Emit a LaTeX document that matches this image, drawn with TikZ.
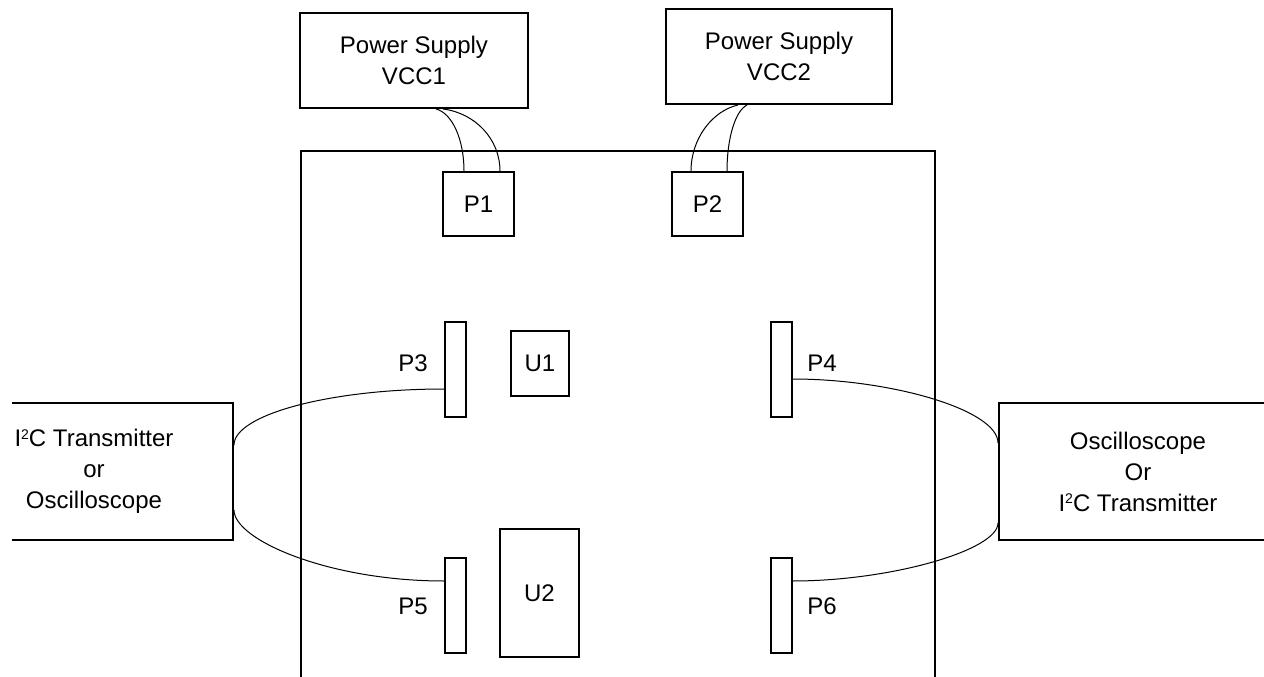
\documentclass[tikz,border=0pt]{standalone}
\usepackage{fontspec}
\setmainfont{Liberation Sans}
\newcommand{\suptwo}{\raisebox{7.5pt}{\fontsize{14}{14}\selectfont 2}}
\begin{document}
\begin{tikzpicture}[x=1pt,y=-1pt,
  txt/.style={font=\fontsize{24}{31}\selectfont,align=center,inner sep=0pt},
  box/.style={txt,draw,line width=2pt,rectangle},
  wire/.style={line width=1pt},
  board/.style={line width=2pt}]
\useasboundingbox (0,0) rectangle (1264,677);
\begin{scope}
\clip (12,0) rectangle (1264,677);
% board outline
\coordinate (BL) at (301,677);
\coordinate (TL) at (301,151);
\coordinate (TR) at (935,151);
\coordinate (BR) at (935,677);
\draw[board] (BL) -- (TL) -- (TR) -- (BR);
% power supplies
\node[box,minimum width=228pt,minimum height=95pt] (PS1) at (414,60.5) {Power Supply\\VCC1};
\node[box,minimum width=226pt,minimum height=95pt] (PS2) at (779,56.5) {Power Supply\\VCC2};
% connectors on board
\node[box,minimum width=71pt,minimum height=64pt] (P1) at (478.5,204) {P1};
\node[box,minimum width=71pt,minimum height=64pt] (P2) at (707.5,204) {P2};
\node[box,minimum width=21pt,minimum height=95pt] (P3) at (455.5,369.5) {};
\node[box,minimum width=21pt,minimum height=95pt] (P5) at (455.5,605.5) {};
\node[box,minimum width=21pt,minimum height=95pt] (P4) at (781,369.5) {};
\node[box,minimum width=21pt,minimum height=95pt] (P6) at (781,605.5) {};
\node[txt] (L3) at (413,363) {P3};
\node[txt] (L5) at (413,606) {P5};
\node[txt] (L4) at (822,363) {P4};
\node[txt] (L6) at (822,606) {P6};
% chips
\node[box,minimum width=58pt,minimum height=65pt] (U1) at (540,363.5) {U1};
\node[box,minimum width=79pt,minimum height=128pt] (U2) at (539.5,593) {U2};
% side instruments
\node[box,minimum width=278pt,minimum height=137pt] (LB) at (94,471.5) {I\suptwo C Transmitter\\or\\Oscilloscope};
\node[box,minimum width=278pt,minimum height=137pt] (RB) at (1138,471.5) {Oscilloscope\\Or\\I\suptwo C Transmitter};
% power wires
\draw[wire] ([xshift=22pt]PS1.south) .. controls +(16,4) and +(0,-32) .. ([xshift=-14.5pt]P1.north);
\draw[wire] ([xshift=29pt]PS1.south) .. controls +(32,4) and +(0,-32) .. ([xshift=21.5pt]P1.north);
\draw[wire] ([xshift=-41pt]PS2.south) .. controls +(-26,6) and +(0,-32) .. ([xshift=-16.5pt]P2.north);
\draw[wire] ([xshift=-32pt]PS2.south) .. controls +(-12,6) and +(0,-32) .. ([xshift=19.5pt]P2.north);
% signal wires
\draw[wire] ([yshift=26.5pt]LB.east) .. controls +(0,-30) and +(-115,0) .. ([yshift=-19.5pt]P3.west);
\draw[wire] ([yshift=-38.5pt]LB.east) .. controls +(0,30) and +(-115,0) .. ([yshift=24.5pt]P5.west);
\draw[wire] ([yshift=-9.5pt]P4.east) .. controls +(99,0) and +(0,-33) .. ([yshift=28.5pt]RB.west);
\draw[wire] ([yshift=24.5pt]P6.east) .. controls +(99,0) and +(0,27) .. ([yshift=-51.5pt]RB.west);
\end{scope}
\end{tikzpicture}
\end{document}
